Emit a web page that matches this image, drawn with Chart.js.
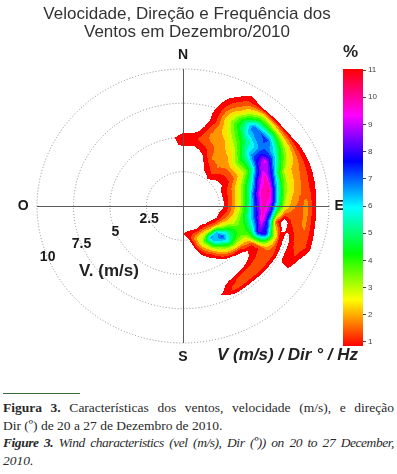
<!DOCTYPE html>
<html>
<head>
<meta charset="utf-8">
<script src="https://cdn.jsdelivr.net/npm/chart.js@4.4.1/dist/chart.umd.min.js"></script>
<style>
    body { margin: 0; width: 397px; height: 474px; background: #fff; position: relative; overflow: hidden; font-family: "Liberation Sans", Arial, sans-serif; }
    #polar { position: absolute; left: 0; top: 0; }
    #colorbar { position: absolute; left: 330px; top: 55px; }
    .lbl { position: absolute; white-space: nowrap; color: #222; }
    #title { top: 5px; left: 0; width: 374px; text-align: center; font-size: 17px; line-height: 18px; color: #333; }
    #pct { left: 343px; top: 42px; font-size: 17px; font-weight: bold; }
    #units { left: 217px; top: 345px; font-size: 17px; font-weight: bold; font-style: italic; }
    #vlabel { left: 79px; top: 261px; font-size: 17px; font-weight: bold; }
    #rule { position: absolute; left: 3px; top: 393px; width: 77px; height: 1px; background: #3d6b3d; }
    #caption { position: absolute; left: 3px; top: 399px; width: 391px; font-family: "Liberation Serif", serif; font-size: 13.5px; line-height: 17.5px; color: #2a2a2a; }
    #caption div { white-space: nowrap; }
    .just { text-align: justify; text-align-last: justify; }
</style>
</head>
<body>
<canvas id="polar" width="397" height="370"></canvas>
<canvas id="colorbar" width="60" height="300"></canvas>
<div class="lbl" id="title">Velocidade, Direção e Frequência dos<br>Ventos em Dezembro/2010</div>
<div class="lbl" id="pct">%</div>
<div class="lbl" id="units">V (m/s) / Dir ° / Hz</div>
<div class="lbl" id="vlabel">V. (m/s)</div>
<div id="rule"></div>
<div id="caption">
    <div class="just"><b>Figura 3.</b> Características dos ventos, velocidade (m/s), e direção</div>
    <div>Dir (º) de 20 a 27 de Dezembro de 2010.</div>
    <div class="just" style="font-style: italic; letter-spacing: -0.45px;"><b>Figure 3.</b> Wind characteristics (vel (m/s), Dir (º)) on 20 to 27 December,</div>
    <div style="font-style: italic;">2010.</div>
</div>
<script>
// wind direction (deg, clockwise from N) and speed (m/s) of the grid
const directions = [-20, -10, 0, 10, 20, 30, 40, 50, 60, 70, 80, 90, 100, 110, 120, 130, 140, 150, 160, 170, 180, 190];
const speeds = [1.5, 2, 2.5, 3, 3.5, 4, 4.5, 5, 5.5, 6, 6.5, 7, 7.5, 8, 8.5, 9, 9.5, 10];

// frequency (%) - one row per direction, one column per speed
const frequency = [
    [0, 0, 0, 0, 0, 0, 0, 0, 0, 0, 0, 0, 0, 0, 0, 0, 0, 0],
    [0, 0, 0, 0, 0, 0, 0.5, 0.6, 0.2, 0, 0, 0, 0, 0, 0, 0, 0, 0],
    [0, 0, 0, 0, 0, 0.3, 1.1, 1.3, 0.6, 0, 0, 0, 0, 0, 0, 0, 0, 0],
    [0, 0, 0, 0, 0, 0.3, 0.95, 1.3, 0.8, 0.2, 0, 0, 0, 0, 0, 0, 0, 0],
    [0, 0, 0, 0, 0.6, 0.9, 1.3, 1.8, 1.9, 1.7, 1.3, 1.3, 1.1, 0.9, 0.6, 0, 0, 0],
    [0, 0, 0, 1.0, 1.3, 1.9, 2.0, 2.0, 2.2, 2.7, 3.3, 3.8, 3.4, 2.4, 1.7, 1.2, 0.6, 0],
    [0, 0, 0.8, 1.3, 1.8, 2.0, 2.1, 2.6, 3.3, 4.2, 5.2, 6.5, 7.2, 5.2, 3.2, 0.7, 0, 0],
    [0, 0, 0.5, 0.9, 1.3, 1.8, 2.8, 4.0, 5.3, 6.6, 6.5, 7.3, 7.5, 5.3, 2.6, 0.6, 0, 0],
    [0, 0, 0.4, 0.8, 1.2, 1.8, 2.6, 3.8, 5.8, 8.6, 9.6, 7.4, 5.2, 3.6, 2.2, 1.0, 0.3, 0],
    [0, 0, 0.5, 1.1, 1.8, 2.8, 4.2, 6.0, 8.8, 10.2, 7.8, 4.6, 2.9, 2.2, 1.8, 1.2, 0.4, 0],
    [0, 0, 0.5, 1.1, 2.0, 3.3, 5.0, 8.0, 10.3, 10.4, 6.5, 4.0, 2.7, 2.0, 1.6, 1.1, 0.4, 0],
    [0, 0, 0.4, 1.1, 2.2, 3.5, 5.5, 8.0, 10.3, 9.0, 5.5, 3.0, 2.0, 1.7, 2.0, 1.0, 0.3, 0],
    [0, 0.2, 0.8, 1.4, 2.4, 3.8, 5.5, 7.5, 10.0, 7.0, 1.6, 0.3, 1.3, 1.8, 1.9, 1.1, 0.3, 0],
    [0, 0.3, 0.9, 2.0, 3.0, 3.8, 4.3, 5.5, 8.5, 8.0, 4.0, 1.3, 0.5, 1.3, 1.7, 1.3, 0.5, 0],
    [0.3, 0.6, 1.4, 3.2, 5.0, 4.8, 3.8, 2.6, 1.5, 1.4, 1.7, 1.6, 0.6, 1.0, 1.1, 0.3, 0, 0],
    [0.3, 0.85, 2.2, 6.5, 7.5, 6.0, 3.5, 1.3, 0.5, 1.0, 1.7, 1.5, 0.5, 0, 0, 0, 0, 0],
    [0.4, 1.1, 2.8, 7.0, 6.0, 3.5, 2.0, 0.7, 0.2, 0.6, 1.6, 1.4, 0.4, 0, 0, 0, 0, 0],
    [0.3, 1.0, 2.8, 4.0, 2.8, 1.5, 0.7, 0, 0, 0.3, 1.2, 1.5, 0.5, 0, 0, 0, 0, 0],
    [0.2, 1.1, 2.2, 2.0, 1.2, 0.6, 0, 0, 0, 0, 0.2, 0.7, 0.3, 0, 0, 0, 0, 0],
    [0, 1.2, 0.9, 0.2, 0, 0, 0, 0, 0, 0, 0, 0, 0, 0, 0, 0, 0, 0],
    [0, 0.85, 0.3, 0, 0, 0, 0, 0, 0, 0, 0, 0, 0, 0, 0, 0, 0, 0],
    [0, 0, 0, 0, 0, 0, 0, 0, 0, 0, 0, 0, 0, 0, 0, 0, 0, 0]
];

const ringValues = [2.5, 5, 7.5, 10];
const ringLabels = ['2.5', '5', '7.5', '10'];
const colorTicks = [1, 2, 3, 4, 5, 6, 7, 8, 9, 10, 11];
const colorMin = 0.85;
const colorMax = 11.04;
const levelStep = 0.5;
const maxSpeed = 10;

renderPolar();
renderColorbar();

function hsv(h) {
    const f = n => {
        const k = (n + h / 60) % 6;
        return Math.round(255 * (1 - Math.max(0, Math.min(k, 4 - k, 1))));
    };
    return [f(5), f(3), f(1)];
}

function hueOf(v) {
    return Math.min(359.9, Math.max(0, (v - colorMin) / (colorMax - colorMin) * 360));
}

// bilinear lookup in the direction / speed grid
function freqAt(d, s) {
    const d0 = directions[0], dStep = directions[1] - directions[0];
    const s0 = speeds[0], sStep = speeds[1] - speeds[0];
    const fi = (d - d0) / dStep, fj = (s - s0) / sStep;
    if (fi < 0 || fj < 0 || fi > directions.length - 1 || fj > speeds.length - 1) return 0;
    const i = Math.min(Math.floor(fi), directions.length - 2);
    const j = Math.min(Math.floor(fj), speeds.length - 2);
    const ti = fi - i, tj = fj - j;
    const a = frequency[i][j] * (1 - tj) + frequency[i][j + 1] * tj;
    const b = frequency[i + 1][j] * (1 - tj) + frequency[i + 1][j + 1] * tj;
    return a * (1 - ti) + b * ti;
}

function renderPolar() {
    const polarPlugin = {
        id: 'polarField',
        beforeDatasetsDraw(chart) {
            const { ctx, chartArea: area, scales: { x, y } } = chart;
            const cx = x.getPixelForValue(0), cy = y.getPixelForValue(0);

            // dotted speed rings
            ctx.save();
            ctx.strokeStyle = '#8c8c8c';
            ctx.lineWidth = 1;
            ctx.setLineDash([1, 2]);
            ringValues.forEach(r => {
                ctx.beginPath();
                ctx.ellipse(cx, cy, x.getPixelForValue(r) - cx, cy - y.getPixelForValue(r), 0, 0, Math.PI * 2);
                ctx.stroke();
            });
            ctx.restore();

            // filled contour of the frequency
            const w = Math.ceil(area.right - area.left), h = Math.ceil(area.bottom - area.top);
            const off = document.createElement('canvas');
            off.width = w;
            off.height = h;
            const octx = off.getContext('2d');
            const img = octx.createImageData(w, h);
            for (let j = 0; j < h; j++) {
                const vy = y.getValueForPixel(area.top + j + 0.5);
                for (let i = 0; i < w; i++) {
                    const vx = x.getValueForPixel(area.left + i + 0.5);
                    const s = Math.hypot(vx, vy);
                    let d = Math.atan2(vx, vy) * 180 / Math.PI;
                    if (d < -90) d += 360;
                    const v = freqAt(d, s);
                    if (v < colorMin) continue;
                    const level = colorMin + Math.floor((v - colorMin) / levelStep) * levelStep;
                    const c = hsv(hueOf(level));
                    const k = (j * w + i) * 4;
                    img.data[k] = c[0];
                    img.data[k + 1] = c[1];
                    img.data[k + 2] = c[2];
                    img.data[k + 3] = 255;
                }
            }
            octx.putImageData(img, 0, 0);
            ctx.drawImage(off, area.left, area.top);

            // N-S and O-E axes
            ctx.save();
            ctx.strokeStyle = '#5a5a5a';
            ctx.lineWidth = 1;
            ctx.beginPath();
            ctx.moveTo(Math.round(cx) + 0.5, y.getPixelForValue(maxSpeed));
            ctx.lineTo(Math.round(cx) + 0.5, y.getPixelForValue(-maxSpeed));
            ctx.moveTo(x.getPixelForValue(-maxSpeed), Math.round(cy) + 0.5);
            ctx.lineTo(x.getPixelForValue(maxSpeed), Math.round(cy) + 0.5);
            ctx.stroke();
            ctx.restore();
        },
        afterDraw(chart) {
            const { ctx, scales: { x, y } } = chart;
            ctx.save();
            ctx.fillStyle = '#1a1a1a';
            ctx.textAlign = 'center';
            ctx.textBaseline = 'middle';
            ctx.font = 'bold 14px "Liberation Sans", Arial, sans-serif';
            const compass = [['N', 0, 11], ['E', 10.7, 0], ['S', 0, -11], ['O', -10.95, 0]];
            compass.forEach(c => ctx.fillText(c[0], x.getPixelForValue(c[1]), y.getPixelForValue(c[2])));

            // ring labels along the 248 deg ray
            const a = 248 * Math.PI / 180;
            ringValues.forEach((r, i) => {
                ctx.fillText(ringLabels[i], x.getPixelForValue(r * Math.sin(a)), y.getPixelForValue(r * Math.cos(a)));
            });
            ctx.restore();
        }
    };

    new Chart(document.getElementById('polar'), {
        type: 'scatter',
        data: { datasets: [] },
        options: {
            responsive: false,
            animation: false,
            layout: { padding: { left: 37, right: 68, top: 69, bottom: 27 } },
            scales: {
                x: { type: 'linear', min: -maxSpeed, max: maxSpeed, display: false },
                y: { type: 'linear', min: -maxSpeed, max: maxSpeed, display: false }
            },
            plugins: {
                legend: { display: false },
                tooltip: { enabled: false }
            }
        },
        plugins: [polarPlugin]
    });
}

function renderColorbar() {
    function barGradient(chart) {
        const area = chart.chartArea;
        if (!area) return 'red';
        const ys = chart.scales.y;
        const g = chart.ctx.createLinearGradient(0, ys.getPixelForValue(colorMin), 0, ys.getPixelForValue(colorMax));
        for (let i = 0; i <= 12; i++) {
            g.addColorStop(i / 12, 'hsl(' + (i * 30) + ', 100%, 50%)');
        }
        return g;
    }

    new Chart(document.getElementById('colorbar'), {
        type: 'bar',
        data: {
            labels: [''],
            datasets: [{
                data: [[colorMin, colorMax]],
                backgroundColor: ctx => barGradient(ctx.chart),
                borderWidth: 0,
                barPercentage: 1,
                categoryPercentage: 1
            }]
        },
        options: {
            responsive: false,
            animation: false,
            layout: { padding: { left: 13, right: 8, top: 14, bottom: 9 } },
            scales: {
                x: { display: false },
                y: {
                    position: 'right',
                    min: colorMin,
                    max: colorMax,
                    afterFit: s => { s.width = 19; },
                    afterBuildTicks: s => { s.ticks = colorTicks.map(v => ({ value: v })); },
                    grid: { drawOnChartArea: false, tickLength: 3, color: '#444' },
                    border: { display: false },
                    ticks: { font: { size: 8, family: 'Liberation Sans' }, color: '#444', padding: 2 }
                }
            },
            plugins: {
                legend: { display: false },
                tooltip: { enabled: false }
            }
        }
    });
}
</script>
</body>
</html>
